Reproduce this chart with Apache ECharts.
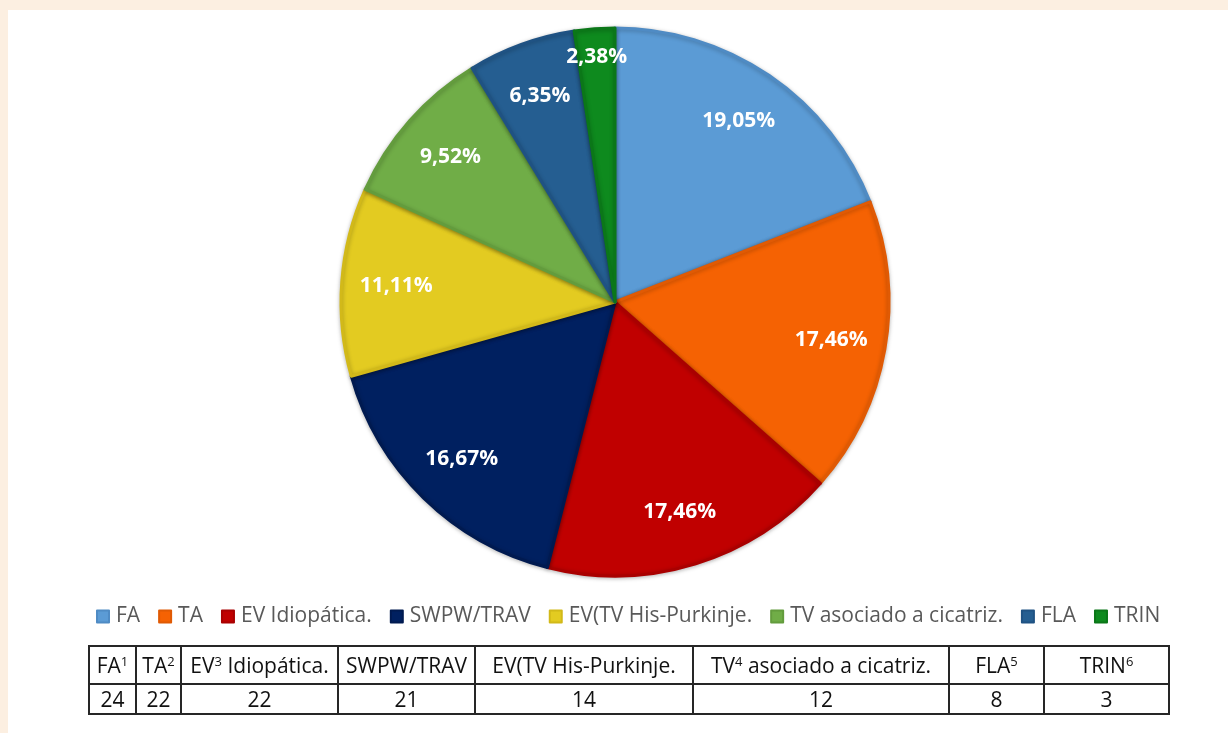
<!DOCTYPE html>
<html>
<head>
<meta charset="utf-8">
<script src="https://cdn.jsdelivr.net/npm/echarts@6/dist/echarts.min.js"></script>
<style>
  html, body { margin: 0; padding: 0; }
  body { width: 1228px; height: 733px; background: #fcefe1; position: relative; overflow: hidden; }
  #panel { position: absolute; left: 8px; top: 10px; width: 1220px; height: 723px; background: #ffffff; }
  #chart { position: absolute; left: 0; top: 0; width: 1228px; height: 733px; }
  #tbl { position: absolute; left: 88px; top: 645px; width: 1081px; table-layout: fixed; border-collapse: collapse; font-family: "Open Sans", sans-serif; color: #111; font-size: 21px; }
  #tbl td { border: 2px solid #262626; text-align: center; padding: 0; white-space: nowrap; overflow: hidden; }
  #tbl tr.h td { height: 36px; }
  #tbl tr.v td { height: 28px; }
  #tbl sup { font-size: 0.62em; line-height: 0; vertical-align: 0.55em; }
</style>
</head>
<body>
<div id="panel"></div>
<div id="chart"></div>
<table id="tbl"><colgroup></colgroup><tr class="h"></tr><tr class="v"></tr></table>
<script>
const categories = ['FA', 'TA', 'EV Idiopática.', 'SWPW/TRAV', 'EV(TV His-Purkinje.', 'TV asociado a cicatriz.', 'FLA', 'TRIN'];
const counts = [24, 22, 22, 21, 14, 12, 8, 3];
const tableHeaders = ['FA¹', 'TA²', 'EV³ Idiopática.', 'SWPW/TRAV', 'EV(TV His-Purkinje.', 'TV⁴ asociado a cicatriz.', 'FLA⁵', 'TRIN⁶'];

const colors = ['#5b9bd5', '#f56203', '#c00000', '#002060', '#e3cb21', '#70ad47', '#255e91', '#0e8a1e'];
const borderColors = ['#4f8bc4', '#e05a04', '#a90000', '#001a50', '#d2b919', '#639c3d', '#1f5283', '#0b7718'];
const colWidths = [47, 45, 157, 137, 218, 256, 95, 125];

const total = counts.reduce((a, b) => a + b, 0);
const R = 274;

const pieData = categories.map((c, i) => ({
  name: c, value: counts[i],
  itemStyle: { color: colors[i], borderColor: borderColors[i], borderWidth: 3 }
}));
const labelData = categories.map((c, i) => ({ name: c, value: counts[i] }));

const chart = echarts.init(document.getElementById('chart'), null, { renderer: 'canvas' });
chart.setOption({
  backgroundColor: 'transparent',
  animation: false,
  color: colors,
  legend: {
    data: categories,
    top: 601,
    left: 91,
    icon: 'rect',
    itemWidth: 12,
    itemHeight: 12,
    itemGap: 18,
    textStyle: { fontFamily: 'Open Sans', fontSize: 21, color: '#595959', padding: [0, 0, 0, 2] }
  },
  series: [
    {
      type: 'pie',
      center: [615, 302],
      radius: [0, R],
      startAngle: 90,
      clockwise: true,
      silent: true,
      label: { show: false },
      labelLine: { show: false },
      itemStyle: { shadowBlur: 4, shadowColor: 'rgba(0,0,0,0.25)', shadowOffsetY: 1 },
      data: pieData
    },
    {
      type: 'pie',
      center: [615, 302],
      radius: [R * 0.58, R],
      startAngle: 90,
      clockwise: true,
      silent: true,
      legendHoverLink: false,
      itemStyle: { color: 'rgba(0,0,0,0)', borderWidth: 0 },
      label: {
        show: true,
        position: 'inside',
        color: '#ffffff',
        fontFamily: 'Open Sans',
        fontWeight: 'bold',
        fontSize: 21,
        formatter: p => (p.value / total * 100).toFixed(2).replace('.', ',') + '%'
      },
      labelLayout: p => (p.dataIndex === categories.length - 1 ? { dy: -26, dx: -2 } : {}),
      labelLine: { show: false },
      data: labelData
    }
  ]
});

const supMap = { '¹': '1', '²': '2', '³': '3', '⁴': '4', '⁵': '5', '⁶': '6' };
const colgroup = document.querySelector('#tbl colgroup');
const hRow = document.querySelector('#tbl tr.h');
const vRow = document.querySelector('#tbl tr.v');
tableHeaders.forEach((h, i) => {
  const col = document.createElement('col');
  col.style.width = colWidths[i] + 'px';
  colgroup.appendChild(col);
  const td = document.createElement('td');
  td.innerHTML = h.replace(/[¹²³⁴⁵⁶]/g, m => '<sup>' + supMap[m] + '</sup>');
  hRow.appendChild(td);
  const td2 = document.createElement('td');
  td2.textContent = counts[i];
  vRow.appendChild(td2);
});
</script>
</body>
</html>
